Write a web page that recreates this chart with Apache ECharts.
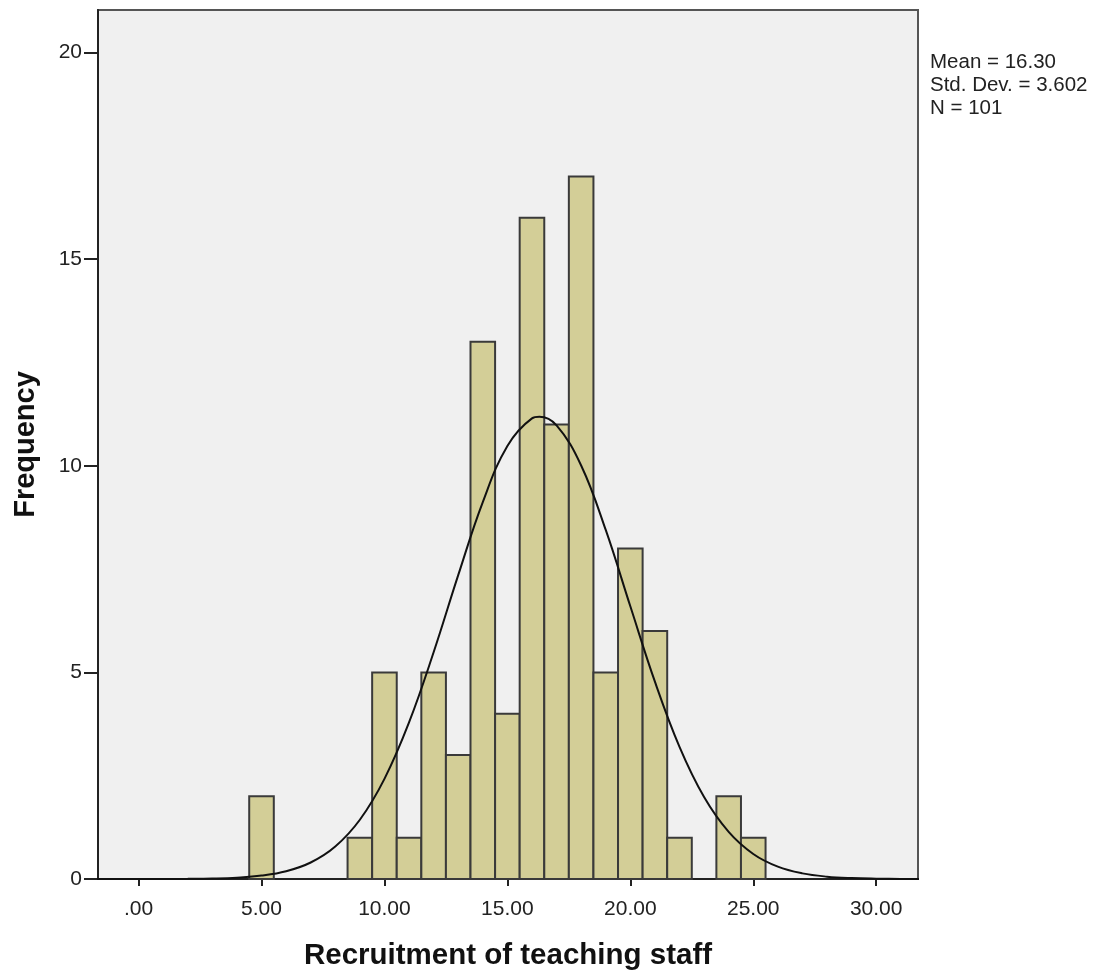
<!DOCTYPE html>
<html>
<head>
<meta charset="utf-8">
<script src="https://cdn.jsdelivr.net/npm/echarts@6/dist/echarts.min.js"></script>
<style>
  html, body { margin: 0; padding: 0; background: #fff; }
  #chart { width: 1106px; height: 976px; }
</style>
</head>
<body>
<div id="chart"></div>
<script>
/* Histogram of "Recruitment of teaching staff" with fitted normal curve (SPSS style). */

// bins: centre of each unit-wide bin and its count
const binCenters  = [5, 9, 10, 11, 12, 13, 14, 15, 16, 17, 18, 19, 20, 21, 22, 24, 25];
const frequencies = [2, 1, 5, 1, 5, 3, 13, 4, 16, 11, 17, 5, 8, 6, 1, 2, 1];
const binWidth = 1;

// normal curve
const curveX = [-2, -1, 0, 1, 2, 3, 4, 5, 6, 7, 8, 9, 10, 11, 12, 13, 14, 15, 16, 16.3,
                17, 18, 19, 20, 21, 22, 23, 24, 25, 26, 27, 28, 29, 30, 31, 32];
const curveY = [0, 0, 0, 0.001, 0.004, 0.012, 0.033, 0.082, 0.187, 0.399, 0.786, 1.434,
                2.424, 3.789, 5.486, 7.353, 9.123, 10.48, 11.147, 11.186, 10.977, 10.007,
                8.447, 6.6, 4.775, 3.198, 1.983, 1.139, 0.605, 0.298, 0.136, 0.057, 0.022,
                0.008, 0.003, 0.001];

const xTickValues = [0, 5, 10, 15, 20, 25, 30];
const xTickLabels = ['.00', '5.00', '10.00', '15.00', '20.00', '25.00', '30.00'];
const yTickValues = [0, 5, 10, 15, 20];
const statLines   = ['Mean = 16.30', 'Std. Dev. = 3.602', 'N = 101'];

const FONT = '"Liberation Sans", Arial, sans-serif';
const INK = '#222';

const chart = echarts.init(document.getElementById('chart'), null, { renderer: 'canvas' });

chart.setOption({
  animation: false,
  backgroundColor: '#fff',
  grid: {
    left: 98, top: 10, width: 820, height: 870,
    show: true, backgroundColor: '#f0f0f0', borderColor: '#555', borderWidth: 2,
  },
  xAxis: {
    type: 'value',
    min: -1.65, max: 31.7,
    name: 'Recruitment of teaching staff',
    nameLocation: 'middle',
    nameGap: 62,
    nameTextStyle: { fontFamily: FONT, fontSize: 29.5, fontWeight: 'bold', color: '#111' },
    axisLine: { onZero: false, lineStyle: { color: INK, width: 2 } },
    axisTick: { show: true, length: 7, customValues: xTickValues, lineStyle: { color: INK, width: 2 } },
    axisLabel: {
      customValues: xTickValues,
      margin: 20, fontFamily: FONT, fontSize: 21, color: INK,
      formatter: v => xTickLabels[xTickValues.indexOf(v)],
    },
    splitLine: { show: false },
  },
  yAxis: {
    type: 'value',
    min: 0, max: 21.03,
    name: 'Frequency',
    nameLocation: 'middle',
    nameGap: 58,
    nameTextStyle: { fontFamily: FONT, fontSize: 29, fontWeight: 'bold', color: '#111' },
    axisLine: { show: true, onZero: false, lineStyle: { color: INK, width: 2 } },
    axisTick: { show: true, length: 14, customValues: yTickValues, lineStyle: { color: INK, width: 2 } },
    axisLabel: {
      customValues: yTickValues,
      margin: 16, padding: [6, 0, 0, 0],
      fontFamily: FONT, fontSize: 21, color: INK,
    },
    splitLine: { show: false },
  },
  graphic: [{
    type: 'text',
    left: 930, top: 51,
    style: {
      text: statLines.join('\n'),
      font: `20.5px ${FONT}`,
      lineHeight: 23,
      fill: INK,
    },
  }],
  series: [
    {
      type: 'custom',
      data: binCenters.map((c, i) => [c, frequencies[i]]),
      encode: { x: 0, y: 1 },
      renderItem(params, api) {
        const c = api.value(0), f = api.value(1);
        const p0 = api.coord([c - binWidth / 2, f]);
        const p1 = api.coord([c + binWidth / 2, 0]);
        return {
          type: 'rect',
          shape: { x: p0[0], y: p0[1], width: p1[0] - p0[0], height: p1[1] - p0[1] },
          style: { fill: '#d3ce97', stroke: '#3a3a3a', lineWidth: 2 },
        };
      },
      z: 2,
    },
    {
      type: 'line',
      data: curveX.map((x, i) => [x, curveY[i]]),
      showSymbol: false,
      smooth: 0.4,
      clip: true,
      lineStyle: { color: '#111', width: 2 },
      z: 3,
    },
  ],
});
</script>
</body>
</html>
